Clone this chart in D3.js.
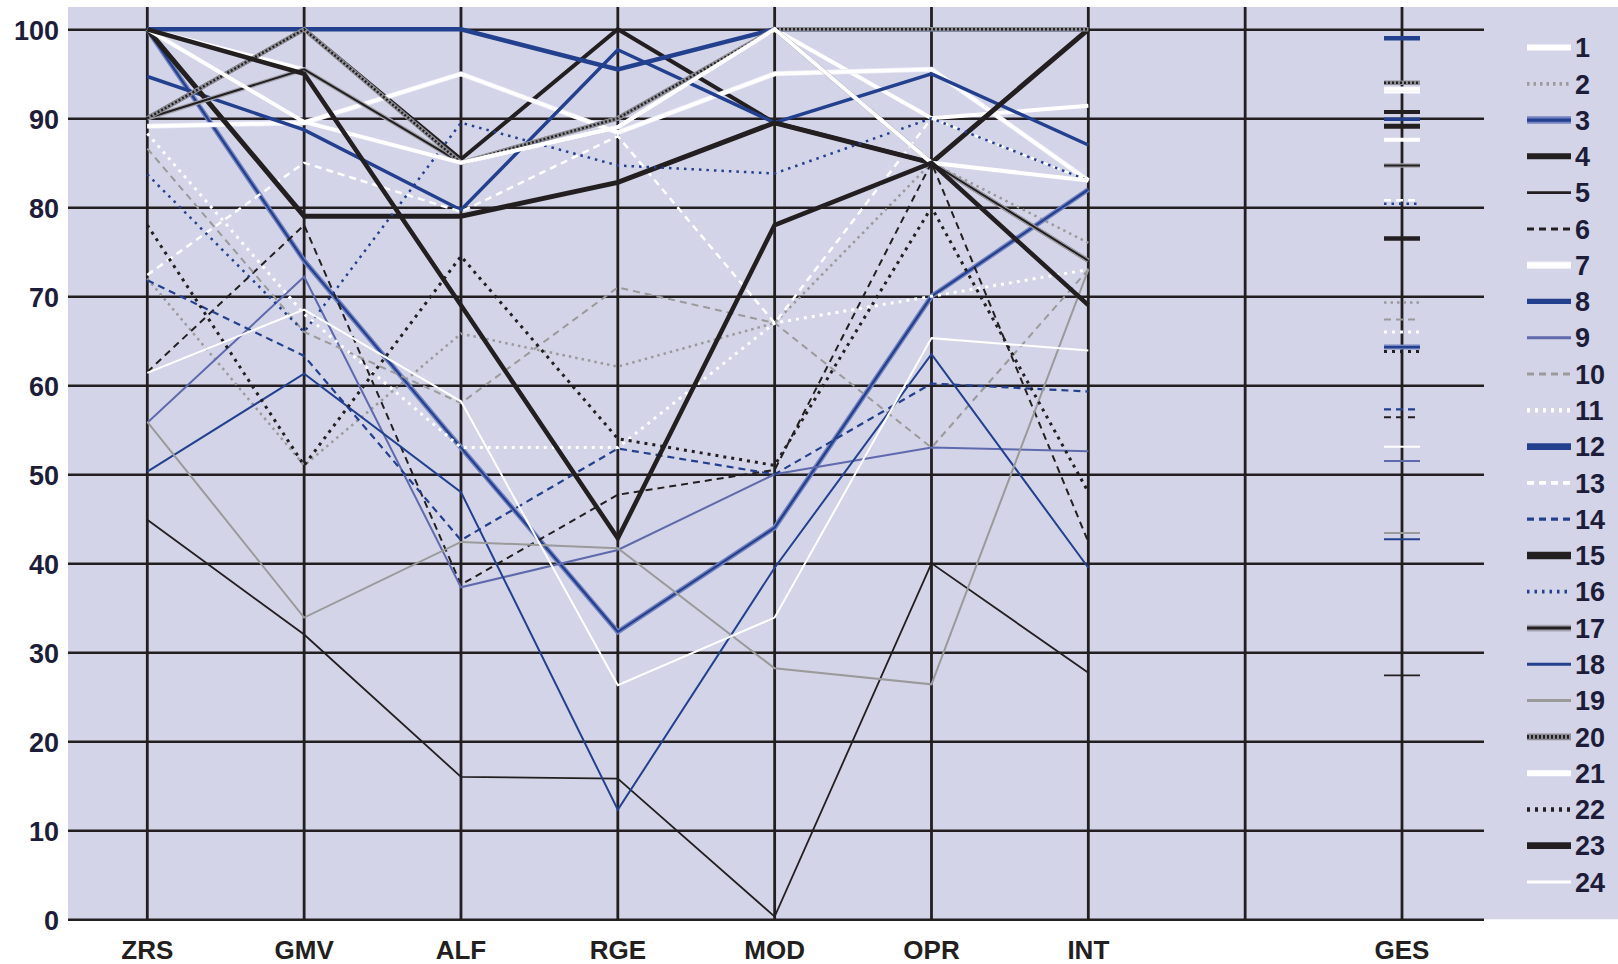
<!DOCTYPE html>
<html>
<head>
<meta charset="utf-8">
<script src="https://cdn.jsdelivr.net/npm/d3@7/dist/d3.min.js"></script>
<style>
	html, body { margin: 0; padding: 0; background: #fff; }
	svg text { font-family: "Liberation Sans", Arial, sans-serif; }
</style>
</head>
<body>
<svg id="chart" width="1618" height="964"></svg>
<script>
// Axis names and ticks
const axisNames = ["ZRS", "GMV", "ALF", "RGE", "MOD", "OPR", "INT"];
const totalName = "GES";
const yTicks = [0, 10, 20, 30, 40, 50, 60, 70, 80, 90, 100];
const seriesNames = ["1", "2", "3", "4", "5", "6", "7", "8", "9", "10", "11", "12",
	"13", "14", "15", "16", "17", "18", "19", "20", "21", "22", "23", "24"];

// Values per axis, one entry per series 1..24
const zrs = [100, 72, 100, 90, 44.9, 61.5, 89.1, 94.7, 55.8, 86.6, 88.3, 100, 72.4, 71.8, 100, 83.7, 90, 50.3, 55.9, 90, 100, 78, 100, 61.4];
const gmv = [95.5, 51, 74, 100, 32, 78, 89.5, 88.7, 72.2, 66, 68, 100, 85, 63.3, 79, 66, 95.5, 61.3, 33.9, 100, 89.6, 51, 95, 68.5];
const alf = [85, 65.8, 53, 85.4, 16, 37.6, 95, 79.7, 37.3, 58, 53, 100, 79.5, 42.6, 79, 89.5, 85, 48, 42.4, 85, 85, 74.5, 69, 58.2];
const rge = [89, 62.1, 32.3, 100, 15.8, 47.7, 88.4, 97.7, 41.5, 71, 53, 95.5, 88, 52.9, 82.8, 84.7, 90, 12.3, 41.7, 90, 89, 54, 42.8, 26.3];
const mod = [100, 67, 44, 89.5, 0.3, 50.5, 95, 89.5, 50, 67, 67, 100, 67, 50, 89.5, 83.8, 100, 39.5, 28.2, 100, 100, 51, 78, 33.9];
const opr = [90, 85, 70, 85, 40, 85, 95.5, 95, 53, 53, 70, 100, 90, 60.2, 85, 90, 85, 63.5, 26.4, 100, 85, 80, 85, 65.3];
const int = [91.4, 76, 82, 74, 27.7, 42.4, 83, 87, 52.6, 73, 73, 100, 83, 59.3, 100, 83, 74, 39.5, 73, 100, 83, 48, 69, 63.9];
const ges = [93.0, 69.3, 64.3, 90.7, 27.4, 56.4, 93.3, 89.9, 51.5, 67.4, 66.0, 99.0, 80.8, 57.3, 89.1, 80.4, 84.7, 42.7, 43.4, 94.0, 87.6, 63.8, 76.5, 53.1];

// Line styles for each series (under = halo stroke drawn first)
const BLUE = "#23408e", PERI = "#5f6aad", GREY = "#9a9a9a", BLACK = "#231f20", WHITE = "#ffffff";
const styles = {
	"1": { color: WHITE, width: 4 },
	"2": { color: GREY, width: 2.5, dash: "2.5,4" },
	"3": { color: BLUE, width: 2.2, under: { color: "#7683c0", width: 5 } },
	"4": { color: BLACK, width: 4 },
	"5": { color: BLACK, width: 1.8 },
	"6": { color: BLACK, width: 2, dash: "7,5" },
	"7": { color: WHITE, width: 3.5, under: { color: "#eeeef8", width: 5 } },
	"8": { color: BLUE, width: 3.5 },
	"9": { color: PERI, width: 2 },
	"10": { color: GREY, width: 2, dash: "7,5" },
	"11": { color: WHITE, width: 3, dash: "3,5" },
	"12": { color: BLUE, width: 4.5 },
	"13": { color: WHITE, width: 2.5, dash: "7,5" },
	"14": { color: BLUE, width: 2.2, dash: "7,5" },
	"15": { color: BLACK, width: 5 },
	"16": { color: BLUE, width: 2.5, dash: "2.5,5" },
	"17": { color: BLACK, width: 2, under: { color: "#a3a3ad", width: 4.5 } },
	"18": { color: BLUE, width: 2 },
	"19": { color: GREY, width: 2 },
	"20": { color: BLACK, width: 2.4, dash: "2,2", under: { color: "#8c8c94", width: 4.5 } },
	"21": { color: WHITE, width: 4 },
	"22": { color: BLACK, width: 3, dash: "3,5" },
	"23": { color: BLACK, width: 4.5 },
	"24": { color: WHITE, width: 2 },
};

const svg = d3.select("svg#chart");
const plot = { left: 68, right: 1618, top: 7, bottom: 919.3 };
const gridRight = 1484;

const y = d3.scaleLinear([0, 100], [919.3, 29.3]);
const x = d3.scaleLinear([0, 8], [147.3, 1402]);

// Build one record per series from the axis arrays
const cols = [zrs, gmv, alf, rge, mod, opr, int];
const data = seriesNames.map((name, i) => ({
	name,
	values: cols.map((c) => c[i]),
	ges: ges[i],
	style: styles[name],
}));

// Background
svg.append("rect")
	.attr("x", plot.left)
	.attr("y", plot.top)
	.attr("width", plot.right - plot.left)
	.attr("height", plot.bottom - plot.top)
	.attr("fill", "#d3d4e8");

// Horizontal gridlines + y labels
const yAxis = svg.append("g")
	.attr("transform", `translate(${plot.left},0)`)
	.call(d3.axisLeft(y).tickValues(yTicks).tickSize(-(gridRight - plot.left)).tickPadding(9))
	.call((g) => g.select(".domain").remove());
yAxis.selectAll(".tick line")
	.attr("stroke", BLACK)
	.attr("stroke-width", 2.6);
yAxis.selectAll(".tick text")
	.attr("fill", "#1d1d3a")
	.attr("font-size", 27)
	.attr("font-weight", "bold")
	.attr("dy", "0.36em");

// Vertical axes (the one at index 7 has no label)
const axisIdx = [0, 1, 2, 3, 4, 5, 6, 7, 8];
svg.append("g")
	.selectAll("line")
	.data(axisIdx)
	.join("line")
	.attr("x1", (d) => x(d))
	.attr("x2", (d) => x(d))
	.attr("y1", plot.top)
	.attr("y2", plot.bottom)
	.attr("stroke", BLACK)
	.attr("stroke-width", 2.8);

const labels = [...axisNames.map((n, i) => ({ n, i })), { n: totalName, i: 8 }];
svg.append("g")
	.selectAll("text")
	.data(labels)
	.join("text")
	.attr("x", (d) => x(d.i))
	.attr("y", 950)
	.attr("text-anchor", "middle")
	.attr("dominant-baseline", "central")
	.attr("font-size", 26)
	.attr("font-weight", "bold")
	.attr("fill", BLACK)
	.text((d) => d.n);

// Apply a style (with optional halo) to a selection builder
const drawStyled = function (parent, st, attrsFn) {
	if (st.under) {
		attrsFn(parent.append("path"))
			.attr("fill", "none")
			.attr("stroke", st.under.color)
			.attr("stroke-width", st.under.width);
	}
	attrsFn(parent.append("path"))
		.attr("fill", "none")
		.attr("stroke", st.color)
		.attr("stroke-width", st.width)
		.attr("stroke-dasharray", st.dash || null);
};

const line = d3.line()
	.x((d, i) => x(i))
	.y((d) => y(d))
	.curve(d3.curveLinear);

// Series lines
const lines = svg.append("g").attr("stroke-linejoin", "miter");
data.forEach((d) => {
	const g = lines.append("g").attr("class", "series s" + d.name);
	drawStyled(g, d.style, (p) => p.attr("d", line(d.values)));
});

// GES tick marks
const gesG = svg.append("g");
data.forEach((d) => {
	const yy = y(d.ges);
	drawStyled(gesG, d.style, (p) => p.attr("d", `M${x(8) - 18},${yy}H${x(8) + 18}`));
});

// Legend
const legendRow = d3.scaleLinear([0, 23], [47.5, 882]);
const legend = svg.append("g");
data.forEach((d, i) => {
	const ly = legendRow(i);
	const st = d.style;
	const big = {
		color: st.color,
		width: st.width * 1.5,
		dash: st.dash,
		under: st.under ? { color: st.under.color, width: st.under.width * 1.5 } : null,
	};
	drawStyled(legend, big, (p) => p.attr("d", `M1527,${ly}H1571`));
	legend.append("text")
		.attr("x", 1575)
		.attr("y", ly)
		.attr("dy", "0.36em")
		.attr("font-size", 27)
		.attr("font-weight", "bold")
		.attr("fill", "#1d1d3a")
		.text(d.name);
});
</script>
</body>
</html>
